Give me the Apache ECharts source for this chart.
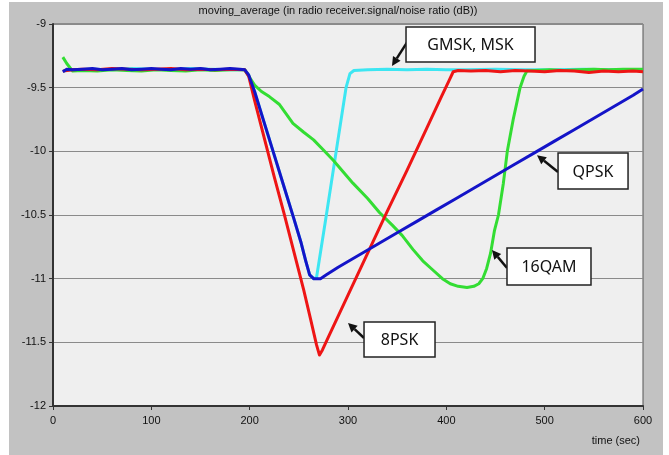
<!DOCTYPE html>
<html>
<head>
<meta charset="utf-8">
<script src="https://cdn.jsdelivr.net/npm/echarts@6/dist/echarts.min.js"></script>
<style>
html,body{margin:0;padding:0;background:#ffffff;}
#chart{width:669px;height:455px;}
</style>
</head>
<body>
<div id="chart"></div>
<script>
// ---- data ----
const titleText = 'moving_average (in radio receiver.signal/noise ratio (dB))';
const xAxisName = 'time (sec)';
const xTicks = [0, 100, 200, 300, 400, 500, 600];
const yTicks = [-12, -11.5, -11, -10.5, -10, -9.5, -9];

const cyanName = 'GMSK, MSK';
const cyanT = [10, 20, 40, 60, 80, 100, 120, 140, 160, 180, 195, 199, 205, 215, 225, 235, 245, 252, 257, 261, 265, 268, 278, 288, 298, 302, 306, 320, 340, 360, 380, 400, 420, 450, 480, 510, 540, 570, 600];
const cyanV = [-9.37, -9.36, -9.355, -9.36, -9.35, -9.355, -9.36, -9.35, -9.355, -9.36, -9.36, -9.40, -9.53, -9.78, -10.03, -10.28, -10.53, -10.71, -10.86, -10.97, -11.0, -10.99, -10.5, -10.0, -9.5, -9.39, -9.365, -9.36, -9.355, -9.36, -9.355, -9.36, -9.36, -9.355, -9.36, -9.36, -9.355, -9.36, -9.36];

const greenName = '16QAM';
const greenT = [10, 14, 20, 30, 45, 60, 75, 90, 105, 120, 135, 150, 165, 180, 195, 200, 205, 212, 220, 230, 244, 255, 265, 275, 285, 295, 305, 320, 332, 345, 355, 366, 376, 386, 396, 404, 412, 421, 428, 433, 437, 441, 445, 449, 453, 458, 462, 468, 475, 479, 482, 490, 505, 520, 535, 550, 565, 580, 600];
const greenV = [-9.26, -9.31, -9.37, -9.365, -9.37, -9.36, -9.365, -9.37, -9.36, -9.365, -9.37, -9.36, -9.365, -9.36, -9.36, -9.42, -9.48, -9.53, -9.57, -9.63, -9.78, -9.85, -9.91, -9.99, -10.07, -10.16, -10.25, -10.37, -10.48, -10.58, -10.66, -10.77, -10.86, -10.93, -11.0, -11.04, -11.06, -11.07, -11.06, -11.04, -11.0, -10.92, -10.8, -10.62, -10.5, -10.25, -10.0, -9.75, -9.5, -9.41, -9.37, -9.365, -9.36, -9.365, -9.36, -9.355, -9.36, -9.355, -9.355];

const redName = '8PSK';
const redT = [10, 20, 30, 45, 60, 75, 90, 105, 120, 135, 150, 165, 180, 195, 199, 205, 215, 225, 235, 245, 255, 262, 268, 271, 274, 280, 300, 320, 340, 360, 380, 395, 403, 407, 412, 425, 440, 455, 470, 485, 500, 515, 530, 545, 560, 575, 590, 600];
const redV = [-9.37, -9.36, -9.355, -9.36, -9.35, -9.355, -9.36, -9.355, -9.35, -9.36, -9.355, -9.36, -9.355, -9.36, -9.41, -9.6, -9.9, -10.2, -10.49, -10.79, -11.09, -11.32, -11.52, -11.6, -11.56, -11.46, -11.13, -10.8, -10.47, -10.15, -9.82, -9.57, -9.44, -9.375, -9.365, -9.37, -9.365, -9.375, -9.365, -9.37, -9.375, -9.365, -9.37, -9.38, -9.37, -9.375, -9.37, -9.375];

const blueName = 'QPSK';
const blueT = [10, 14, 20, 30, 40, 50, 60, 70, 80, 90, 100, 110, 120, 130, 140, 150, 160, 170, 180, 190, 195, 199, 205, 215, 225, 235, 245, 252, 257, 261, 265, 272, 278, 290, 310, 330, 350, 370, 390, 410, 430, 450, 470, 490, 510, 530, 550, 570, 590, 600];
const blueV = [-9.375, -9.355, -9.36, -9.355, -9.35, -9.36, -9.355, -9.35, -9.36, -9.355, -9.35, -9.355, -9.36, -9.35, -9.355, -9.35, -9.36, -9.355, -9.35, -9.355, -9.36, -9.40, -9.53, -9.78, -10.03, -10.28, -10.53, -10.71, -10.86, -10.97, -11.0, -11.0, -10.97, -10.91, -10.82, -10.73, -10.64, -10.55, -10.46, -10.37, -10.28, -10.19, -10.10, -10.01, -9.92, -9.83, -9.74, -9.65, -9.56, -9.51];

// annotation labels, their box centres, arrow tails and arrow tips (data coordinates)
const annoLabels = [cyanName, blueName, greenName, redName];
const annoBoxCenter = [[424.6, -9.161], [549.2, -10.154], [504.4, -10.905], [352.4, -11.478]];
const annoTail = [[361.0, -9.133], [513.6, -10.162], [461.7, -10.916], [316.3, -11.466]];
const annoTip = [[344.7, -9.33], [492.2, -10.03], [446.4, -10.775], [300.0, -11.348]];

// ---- chart ----
const zip = (t, v) => t.map((x, i) => [x, v[i]]);
const chart = echarts.init(document.getElementById('chart'), null, {renderer: 'canvas'});
const AX_FONT = {fontFamily: 'Liberation Sans', fontSize: 11, color: '#111'};

function lineSeries(name, data, color) {
  return {
    name: name, type: 'line', data: data, showSymbol: false, symbol: 'none',
    lineStyle: {color: color, width: 3, join: 'round'},
    itemStyle: {color: color}, animation: false, silent: true
  };
}

const option = {
  animation: false,
  backgroundColor: '#ffffff',
  grid: {left: 53, right: 26, top: 24, bottom: 49, show: true,
         backgroundColor: '#efefef', borderColor: '#555', borderWidth: 1},
  xAxis: {
    type: 'value', min: xTicks[0], max: xTicks[xTicks.length - 1], interval: 100,
    axisLine: {show: true, onZero: false, lineStyle: {color: '#333', width: 2}},
    axisTick: {show: true, length: 4, lineStyle: {color: '#333', width: 1}},
    axisLabel: Object.assign({margin: 9}, AX_FONT),
    splitLine: {show: false}
  },
  yAxis: {
    type: 'value', min: yTicks[0], max: yTicks[yTicks.length - 1], interval: 0.5,
    axisLine: {show: true, onZero: false, lineStyle: {color: '#333', width: 2}},
    axisTick: {show: true, length: 4, lineStyle: {color: '#333', width: 1}},
    axisLabel: Object.assign({margin: 7}, AX_FONT),
    splitLine: {show: true, lineStyle: {color: '#8a8a8a', width: 1}}
  },
  series: [
    lineSeries(cyanName, zip(cyanT, cyanV), '#3de6f2'),
    lineSeries(greenName, zip(greenT, greenV), '#33dd33'),
    lineSeries(redName, zip(redT, redV), '#ee1515'),
    lineSeries(blueName, zip(blueT, blueV), '#1414c8')
  ]
};
chart.setOption(option);

// background panel + texts + annotations
const toPx = p => chart.convertToPixel({gridIndex: 0}, p);
const boxSize = [[129, 35], [70, 36], [84, 37], [71, 35]];
const elements = [
  {type: 'rect', z: -10, silent: true, shape: {x: 9, y: 2, width: 654, height: 453},
   style: {fill: '#c2c2c2'}},
  {type: 'text', silent: true, x: 338, y: 11,
   style: {text: titleText, fontFamily: 'Liberation Sans', fontSize: 11, fill: '#111',
           align: 'center', verticalAlign: 'middle'}},
  {type: 'text', silent: true, x: 640, y: 441,
   style: {text: xAxisName, fontFamily: 'Liberation Sans', fontSize: 11, fill: '#111',
           align: 'right', verticalAlign: 'middle'}}
];
annoLabels.forEach((lab, i) => {
  const c = toPx(annoBoxCenter[i]);
  const tail = toPx(annoTail[i]);
  const tip = toPx(annoTip[i]);
  const w = boxSize[i][0], h = boxSize[i][1];
  const dx = tip[0] - tail[0], dy = tip[1] - tail[1];
  const len = Math.sqrt(dx * dx + dy * dy);
  const ux = dx / len, uy = dy / len;
  const hl = 9, hw = 4.5;
  const bx = tip[0] - ux * hl, by = tip[1] - uy * hl;
  elements.push({type: 'line', z: 100, silent: true,
    shape: {x1: tail[0], y1: tail[1], x2: bx, y2: by},
    style: {stroke: '#111', lineWidth: 2.5}});
  elements.push({type: 'polygon', z: 100, silent: true,
    shape: {points: [[tip[0], tip[1]], [bx - uy * hw, by + ux * hw], [bx + uy * hw, by - ux * hw]]},
    style: {fill: '#111'}});
  elements.push({type: 'rect', z: 101, silent: true,
    shape: {x: c[0] - w / 2, y: c[1] - h / 2, width: w, height: h},
    style: {fill: '#ffffff', stroke: '#222', lineWidth: 1.5}});
  elements.push({type: 'text', z: 102, silent: true, x: c[0], y: c[1] + 1,
    style: {text: lab, fontFamily: 'Noto Sans', fontSize: 16, fill: '#111',
            align: 'center', verticalAlign: 'middle'}});
});
chart.setOption({graphic: {elements: elements}});
</script>
</body>
</html>
